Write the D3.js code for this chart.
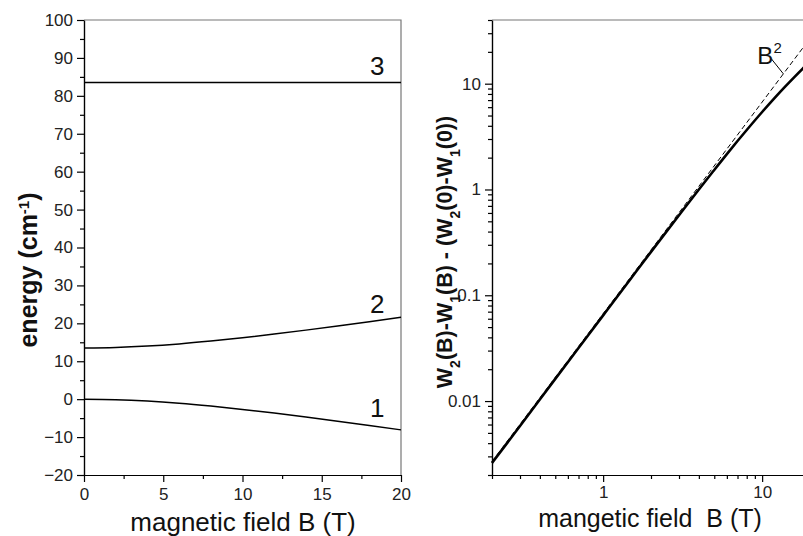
<!DOCTYPE html>
<html lang="en">
<head>
  <meta charset="UTF-8">
  <title>Energy levels vs magnetic field</title>
  <script src="https://d3js.org/d3.v7.min.js"></script>
  <style>
    body { margin: 0; background: #fff; }
    svg { display: block; font-family: "Liberation Sans", Arial, sans-serif; }
    .axis path, .axis line { stroke: #000; stroke-width: 1.2; }
    .axis text { font-size: 17px; fill: #222; }
  </style>
</head>
<body>
  <svg width="803" height="536"></svg>
  <script>
  // left panel: energy levels
  const fieldB = [0, 2, 4, 6, 8, 10, 12, 14, 16, 18, 20];
  const level1 = [0, -0.13, -0.5, -1.08, -1.83, -2.7, -3.67, -4.71, -5.8, -6.94, -8.1];
  const level2 = [13.5, 13.63, 14.0, 14.58, 15.33, 16.2, 17.17, 18.21, 19.3, 20.44, 21.6];
  const level3 = [83.5, 83.5, 83.5, 83.5, 83.5, 83.5, 83.5, 83.5, 83.5, 83.5, 83.5];
  const levelNames = ["1", "2", "3"];
  const levelLabelAt = [-4.8, 22.7, 85.5];   // label baselines, in energy units
  const leftXTicks = [0, 5, 10, 15, 20];
  const leftYTicks = [-20, -10, 0, 10, 20, 30, 40, 50, 60, 70, 80, 90, 100];

  // right panel: splitting shift, log-log
  const logB = [0.2, 0.3, 0.5, 0.7, 1, 1.5, 2, 3, 4, 5, 6, 7, 8, 10, 12, 14, 16, 18, 20];
  const shift = [0.0026, 0.0058, 0.0162, 0.0317, 0.0646, 0.145, 0.257, 0.571, 1.0, 1.53, 2.16,
                 2.87, 3.65, 5.4, 7.34, 9.42, 11.6, 13.87, 16.2];
  const squareB = [0.2, 20];
  const squareV = [0.00268, 26.8];
  const rightXTicks = [1, 10];
  const rightYTicks = [0.01, 0.1, 1, 10];

  const svg = d3.select("svg");

  // ---------- left ----------
  const xL = d3.scaleLinear().domain([0, 20]).range([84, 401]);
  const yL = d3.scaleLinear().domain([-20, 100]).range([475, 20]);

  const minorX = d3.range(0, 20.1, 2.5).filter(d => d % 5 !== 0);
  const minorY = d3.range(-20, 100.1, 5).filter(d => d % 10 !== 0);

  svg.append("g").attr("class", "axis")
    .attr("transform", "translate(0,475)")
    .call(d3.axisBottom(xL).tickValues(minorX).tickFormat("").tickSize(4).tickSizeOuter(0));
  svg.append("g").attr("class", "axis")
    .attr("transform", "translate(0,475)")
    .call(d3.axisBottom(xL).tickValues(leftXTicks).tickSize(7).tickPadding(6).tickSizeOuter(0));
  svg.append("g").attr("class", "axis")
    .attr("transform", "translate(84,0)")
    .call(d3.axisLeft(yL).tickValues(minorY).tickFormat("").tickSize(4).tickSizeOuter(0));
  svg.append("g").attr("class", "axis")
    .attr("transform", "translate(84,0)")
    .call(d3.axisLeft(yL).tickValues(leftYTicks).tickSize(7).tickPadding(4).tickSizeOuter(0));

  svg.append("path")
    .attr("d", `M${xL(0)},${yL(100)}H${xL(20)}V${yL(-20)}`)
    .attr("fill", "none").attr("stroke", "#777").attr("stroke-width", 1.2);

  const levels = [level1, level2, level3];
  const lineL = d3.line().x((d, i) => xL(fieldB[i])).y(d => yL(d)).curve(d3.curveMonotoneX);
  levels.forEach(lv => {
    svg.append("path").datum(lv)
      .attr("d", lineL)
      .attr("fill", "none").attr("stroke", "#000").attr("stroke-width", 1.5);
  });

  // level numbers near right end
  levelNames.forEach((name, i) => {
    svg.append("text")
      .attr("x", xL(18.5))
      .attr("y", yL(levelLabelAt[i]))
      .attr("text-anchor", "middle")
      .attr("font-size", 26)
      .attr("fill", "#111")
      .text(name);
  });

  svg.append("text")
    .attr("x", 243).attr("y", 531)
    .attr("text-anchor", "middle").attr("font-size", 26).attr("fill", "#111")
    .text("magnetic field B (T)");

  const eLab = svg.append("text")
    .attr("transform", "translate(37,270) rotate(-90)")
    .attr("text-anchor", "middle").attr("font-size", 25).attr("font-weight", "bold").attr("fill", "#111");
  eLab.append("tspan").text("energy (cm");
  eLab.append("tspan").attr("baseline-shift", "super").attr("font-size", 15).text("-1");
  eLab.append("tspan").text(")");

  // ---------- right ----------
  const xR = d3.scaleLog().domain([0.2, 20]).range([492, 810]);
  const yR = d3.scaleLog().domain([0.002, 40]).range([475, 20]);

  const minorXR = [0.2, 0.3, 0.4, 0.5, 0.6, 0.7, 0.8, 0.9, 2, 3, 4, 5, 6, 7, 8, 9, 20];
  const minorYR = [];
  [0.001, 0.01, 0.1, 1, 10].forEach(dec => {
    for (let k = 2; k <= 9; k++) {
      const v = +(dec * k).toPrecision(3);
      if (v >= 0.002 && v <= 40) minorYR.push(v);
    }
  });

  svg.append("g").attr("class", "axis")
    .attr("transform", "translate(0,475)")
    .call(d3.axisBottom(xR).tickValues(minorXR).tickFormat("").tickSize(4).tickSizeOuter(0));
  svg.append("g").attr("class", "axis")
    .attr("transform", "translate(0,475)")
    .call(d3.axisBottom(xR).tickValues(rightXTicks).tickFormat(d3.format("")).tickSize(7).tickPadding(4).tickSizeOuter(0));
  svg.append("g").attr("class", "axis")
    .attr("transform", "translate(492,0)")
    .call(d3.axisLeft(yR).tickValues(minorYR).tickFormat("").tickSize(4).tickSizeOuter(0));
  svg.append("g").attr("class", "axis")
    .attr("transform", "translate(492,0)")
    .call(d3.axisLeft(yR).tickValues(rightYTicks).tickFormat(d3.format("")).tickSize(7).tickPadding(4).tickSizeOuter(0));

  svg.append("path")
    .attr("d", `M${xR(0.2)},${yR(40)}H${xR(20)}`)
    .attr("fill", "none").attr("stroke", "#777").attr("stroke-width", 1.2);

  svg.append("path")
    .datum(squareB.map((b, i) => [b, squareV[i]]))
    .attr("d", d3.line().x(d => xR(d[0])).y(d => yR(d[1])))
    .attr("fill", "none").attr("stroke", "#000").attr("stroke-width", 1)
    .attr("stroke-dasharray", "5,3");

  svg.append("path")
    .datum(logB.map((b, i) => [b, shift[i]]))
    .attr("d", d3.line().x(d => xR(d[0])).y(d => yR(d[1])).curve(d3.curveMonotoneX))
    .attr("fill", "none").attr("stroke", "#000").attr("stroke-width", 2.6);

  // B^2 annotation pointing at the dashed line
  const tipB = 13.6;
  const tipV = squareV[0] * Math.pow(tipB / squareB[0], 2);
  const tx = xR(tipB), ty = yR(tipV);
  svg.append("line")
    .attr("x1", tx - 12).attr("y1", ty - 15).attr("x2", tx).attr("y2", ty)
    .attr("stroke", "#000").attr("stroke-width", 1);
  const bLab = svg.append("text")
    .attr("x", tx - 26).attr("y", ty - 10)
    .attr("font-size", 24).attr("fill", "#111");
  bLab.append("tspan").text("B");
  bLab.append("tspan").attr("dy", -11).attr("font-size", 15).text("2");

  svg.append("text")
    .attr("x", 650).attr("y", 527)
    .attr("text-anchor", "middle").attr("font-size", 25).attr("fill", "#111")
    .style("white-space", "pre")
    .text("mangetic field  B (T)");

  const wLab = svg.append("text")
    .attr("transform", "translate(452,252) rotate(-90)")
    .attr("text-anchor", "middle").attr("font-size", 21.5).attr("font-weight", "bold").attr("fill", "#111");
  const parts = [["W", "2"], ["(B)-W", "1"], ["(B) - (W", "2"], ["(0)-W", "1"], ["(0))", null]];
  parts.forEach(([t, s]) => {
    wLab.append("tspan").text(t);
    if (s) wLab.append("tspan").attr("baseline-shift", "sub").attr("font-size", 14).text(s);
  });
  </script>
</body>
</html>
